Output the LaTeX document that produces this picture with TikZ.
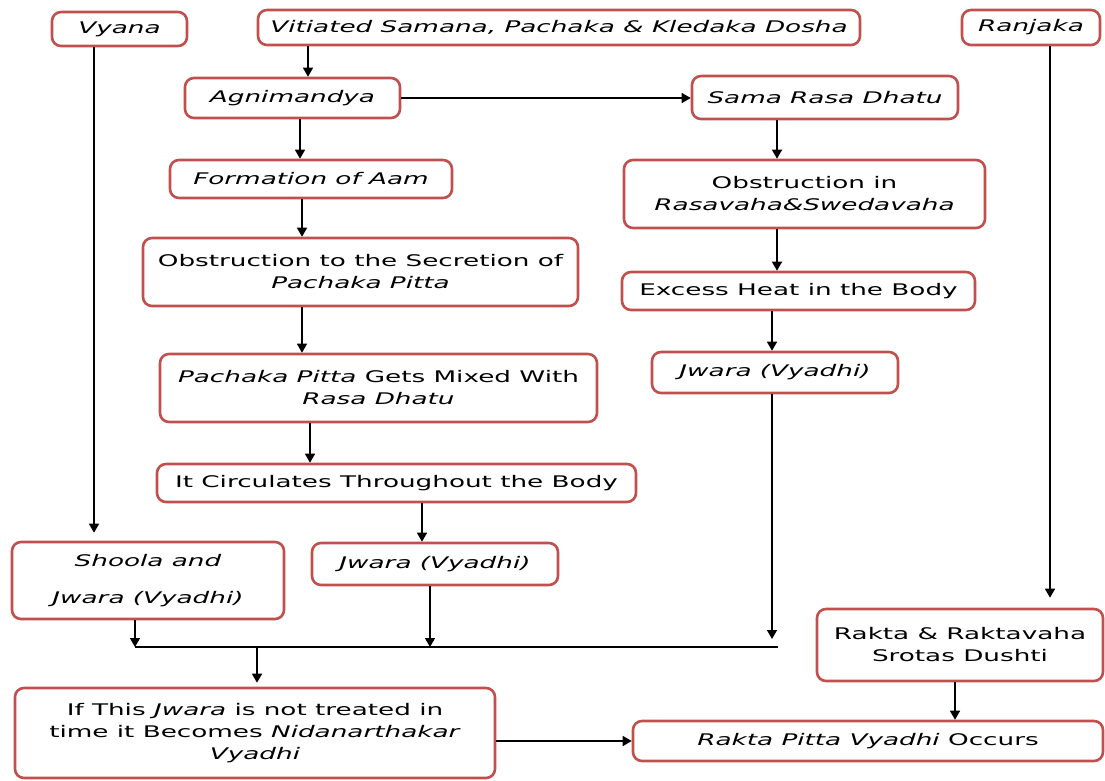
\documentclass[tikz,border=0pt]{standalone}
\usepackage{fontspec}
\setmainfont{DejaVu Sans}[FakeStretch=1.64]
\usetikzlibrary{arrows.meta}
\definecolor{boxred}{RGB}{192,80,77}
\begin{document}
\begin{tikzpicture}[x=1pt,y=-1pt,
  box/.style={draw=boxred, line width=2.6pt, rounded corners=9pt, fill=white,
    align=center, inner sep=2pt, font=\fontsize{16}{22}\selectfont},
  arr/.style={line width=1.5pt, -{Triangle[width=10pt,length=9pt]}},
  ln/.style={line width=1.5pt}]
\useasboundingbox (0,0) rectangle (1105,780);

\node[box, minimum width=135pt, minimum height=34pt] (vyana) at (119.5,29) {\textit{Vyana}};
\node[box, minimum width=602pt, minimum height=35pt] (vit) at (559,27.5) {\textit{Vitiated Samana, Pachaka \& Kledaka Dosha}};
\node[box, minimum width=138pt, minimum height=35pt] (ranj) at (1031,27.5) {\textit{Ranjaka}};
\node[box, minimum width=215pt, minimum height=40pt] (agni) at (292.5,98) {\textit{Agnimandya}};
\node[box, minimum width=266pt, minimum height=43pt] (sama) at (825,97.5) {\textit{Sama Rasa Dhatu}};
\node[box, minimum width=282pt, minimum height=38pt] (form) at (311,179) {\textit{Formation of Aam}};
\node[box, minimum width=361pt, minimum height=68pt] (obsin) at (804.5,194) {Obstruction in\\\textit{Rasavaha\&Swedavaha}};
\node[box, minimum width=435pt, minimum height=68pt] (obsto) at (360.5,272) {Obstruction to the Secretion of\\\textit{Pachaka Pitta}};
\node[box, minimum width=353pt, minimum height=38pt] (excess) at (798.5,291) {Excess Heat in the Body};
\node[box, minimum width=437pt, minimum height=68pt] (pach) at (378.5,388) {\textit{Pachaka Pitta} Gets Mixed With\\\textit{Rasa Dhatu}};
\node[box, minimum width=246pt, minimum height=41pt] (jwr) at (775,372.5) {\textit{Jwara (Vyadhi)}};
\node[box, minimum width=479pt, minimum height=38pt] (circ) at (396.5,483) {It Circulates Throughout the Body};
\node[box, minimum width=272pt, minimum height=77pt] (shoola) at (148,580.5) {\textit{Shoola and}\\[15pt]\textit{Jwara (Vyadhi)}};
\node[box, minimum width=246pt, minimum height=42pt] (jwm) at (435,564) {\textit{Jwara (Vyadhi)}};
\node[box, minimum width=286pt, minimum height=72pt] (rakdu) at (960,645) {Rakta \& Raktavaha\\Srotas Dushti};
\node[box, minimum width=480pt, minimum height=90pt] (ifthis) at (255,733) {If This \textit{Jwara} is not treated in\\time it Becomes \textit{Nidanarthakar}\\\textit{Vyadhi}};
\node[box, minimum width=470pt, minimum height=40pt] (rpv) at (868,741) {\textit{Rakta Pitta Vyadhi} Occurs};

\coordinate (jl) at (135,647);
\coordinate (jc) at (430,647);
\coordinate (jm) at (257,647);
\coordinate (jr) at (778,647);
\coordinate (jt) at (772,639);

\draw[arr] ([xshift=-251pt]vit.south) -- ([xshift=15.5pt]agni.north);
\draw[arr] (agni.east) -- (agni.east -| sama.west);
\draw[arr] ([xshift=7.5pt]agni.south) -- ([xshift=-11pt]form.north);
\draw[arr] ([xshift=-9pt]form.south) -- ([xshift=-58.5pt]obsto.north);
\draw[arr] ([xshift=-58.5pt]obsto.south) -- ([xshift=-76.5pt]pach.north);
\draw[arr] ([xshift=-68.5pt]pach.south) -- ([xshift=-86.5pt]circ.north);
\draw[arr] ([xshift=25.5pt]circ.south) -- ([xshift=-13pt]jwm.north);
\draw[arr] ([xshift=-48pt]sama.south) -- ([xshift=-27.5pt]obsin.north);
\draw[arr] ([xshift=-27.5pt]obsin.south) -- ([xshift=-21.5pt]excess.north);
\draw[arr] ([xshift=-26.5pt]excess.south) -- ([xshift=-3pt]jwr.north);
\draw[arr] ([xshift=-3pt]jwr.south) -- (jt);
\draw[arr] ([xshift=-25.5pt]vyana.south) -- ([xshift=-54pt,yshift=8pt]shoola.north);
\draw[arr] ([xshift=19pt]ranj.south) -- ([xshift=90pt,yshift=10pt]rakdu.north);
\draw[arr] ([xshift=-13pt]shoola.south) -- (jl);
\draw[arr] ([xshift=-5pt]jwm.south) -- (jc);
\draw[ln] (jl) -- (jr);
\draw[arr] (jm) -- ([xshift=2pt,yshift=4pt]ifthis.north);
\draw[arr] (ifthis.east |- rpv.west) -- (rpv.west);
\draw[arr] ([xshift=-5pt]rakdu.south) -- ([xshift=87pt]rpv.north);
\end{tikzpicture}
\end{document}
